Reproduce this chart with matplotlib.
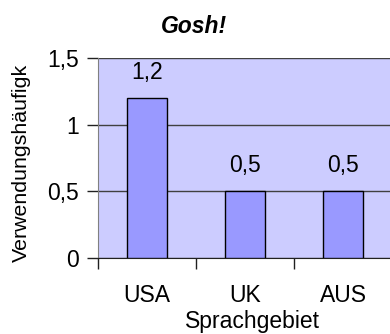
import matplotlib
matplotlib.use("Agg")
import matplotlib.pyplot as plt

categories = ["USA", "UK", "AUS"]
values = [1.2, 0.5, 0.5]
value_labels = ["1,2", "0,5", "0,5"]
y_ticks = [0, 0.5, 1, 1.5]
y_tick_labels = ["0", "0,5", "1", "1,5"]

plt.rcParams["font.family"] = ["Liberation Sans", "DejaVu Sans"]
FS = 16.5

W, H = 390, 334
fig = plt.figure(figsize=(W / 100, H / 100), dpi=100)

# plot area runs past the right edge of the figure
left, bottom, top = 98, 258, 58
unit = 98  # pixels per category
n_slots = 4
ax = fig.add_axes([left / W, (H - bottom) / H, n_slots * unit / W, (bottom - top) / H])
ax.set_facecolor("#CCCCFF")

x = [i + 0.5 for i in range(len(categories))]
ax.bar(x, values, width=0.41, color="#9999FF", edgecolor="black", linewidth=1, zorder=3)

for xi, v, lab in zip(x, values, value_labels):
    ax.annotate(lab, (xi, v), xytext=(0, 13.7), textcoords="offset points",
                ha="center", va="baseline", fontsize=FS)

ax.set_xlim(0, n_slots)
ax.set_ylim(0, 1.5)
ax.set_yticks(y_ticks)
ax.set_yticklabels(y_tick_labels, fontsize=FS)
ax.set_xticks(x)
ax.set_xticklabels(categories, fontsize=FS)
ax.set_xticks([0, 1, 2, 3], minor=True)
ax.tick_params(axis="x", which="major", length=0, pad=19)
ax.tick_params(axis="x", which="minor", length=8, width=1, color="#202020")
ax.tick_params(axis="y", length=8, width=1, color="#202020", pad=6)

ax.yaxis.grid(True, color="#404040", linewidth=1, zorder=1)
ax.set_axisbelow(True)
for s in ["top", "right"]:
    ax.spines[s].set_visible(False)
ax.spines["left"].set_color("#808080")
ax.spines["bottom"].set_color("#202020")

fig.text(194 / W, 1 - 33.3 / H, "Gosh!", fontsize=16.5, fontweight="bold",
         fontstyle="italic", ha="center", va="baseline")
fig.text(252 / W, 1 - 328 / H, "Sprachgebiet", fontsize=FS, ha="center", va="baseline")
fig.text(21 / W, 1 - 163 / H, "Verwendungshäufigk", fontsize=15.4, rotation=90,
         ha="center", va="center")

fig.savefig("out.png", dpi=100)
